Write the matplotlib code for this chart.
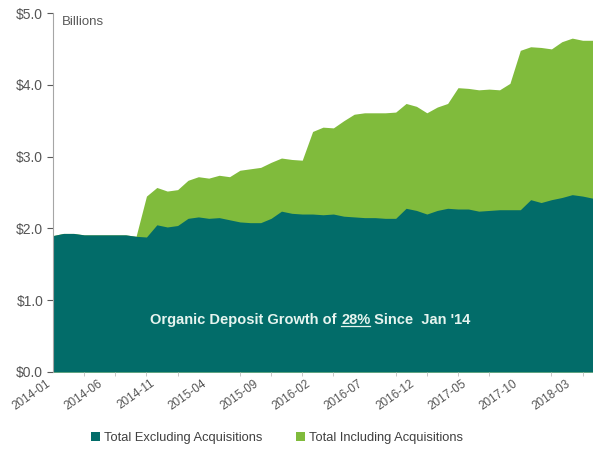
import matplotlib
matplotlib.use("Agg")
import matplotlib.pyplot as plt
from matplotlib.lines import Line2D
from matplotlib.transforms import ScaledTranslation
import numpy as np
import pandas as pd

# monthly deposits, $ billions, Jan 2014 - May 2018
months = pd.period_range("2014-01", periods=53, freq="M")

total_excl = [
    1.90, 1.93, 1.93, 1.91, 1.91, 1.91, 1.91, 1.91, 1.89, 1.88,
    2.05, 2.02, 2.04, 2.14, 2.16, 2.14, 2.15, 2.12, 2.09, 2.08,
    2.08, 2.14, 2.24, 2.21, 2.20, 2.20, 2.19, 2.20, 2.17, 2.16,
    2.15, 2.15, 2.14, 2.14, 2.28, 2.25, 2.20, 2.25, 2.28, 2.27,
    2.27, 2.24, 2.25, 2.26, 2.26, 2.26, 2.40, 2.36, 2.40, 2.43,
    2.47, 2.45, 2.42,
]

total_incl = [
    1.90, 1.93, 1.93, 1.91, 1.91, 1.91, 1.91, 1.91, 1.89, 2.45,
    2.57, 2.52, 2.54, 2.67, 2.72, 2.70, 2.74, 2.72, 2.81, 2.83,
    2.85, 2.92, 2.98, 2.96, 2.95, 3.35, 3.41, 3.40, 3.50, 3.59,
    3.61, 3.61, 3.61, 3.62, 3.74, 3.70, 3.61, 3.69, 3.74, 3.96,
    3.95, 3.93, 3.94, 3.93, 4.02, 4.48, 4.53, 4.52, 4.50, 4.60,
    4.65, 4.62, 4.62,
]

y_ticks = [0, 1, 2, 3, 4, 5]
label_every = 5
tick_every = 3

TEAL = "#026c69"
GREEN = "#80bb3c"
GREY = "#595959"

plt.rcParams["font.family"] = ["Liberation Sans", "DejaVu Sans"]

fig = plt.figure(figsize=(5.93, 4.57), dpi=100)
ax = fig.add_axes([53 / 593, 1 - 372 / 457, 1 - 53 / 593, (372 - 13) / 457])

x = np.arange(len(months))
ax.fill_between(x, 0, total_incl, color=GREEN, linewidth=0,
                label="Total Including Acquisitions")
ax.fill_between(x, 0, total_excl, color=TEAL, linewidth=0,
                label="Total Excluding Acquisitions")

ax.set_xlim(0, len(months) - 1)
ax.set_ylim(0, 5)
ax.set_yticks(y_ticks)
ax.set_yticklabels([f"${v:.1f}" for v in y_ticks])

lab_pos = x[::label_every]
ax.set_xticks(lab_pos)
ax.set_xticklabels([str(months[i]) for i in lab_pos], rotation=35,
                   ha="right", rotation_mode="anchor")
ax.set_xticks(x[::tick_every], minor=True)

ax.tick_params(axis="y", colors=GREY, labelsize=10, length=4, width=0.8,
               pad=3, labelcolor="#555555")
ax.tick_params(axis="x", which="both", length=3, color="#bfbfbf", pad=4,
               labelsize=8.5, labelcolor="#555555")
ax.tick_params(axis="x", which="major", length=0)
# nudge the slanted date labels so they end just left of their tick
shift = ScaledTranslation(-5 / 72, 0, fig.dpi_scale_trans)
for lbl in ax.get_xticklabels():
    lbl.set_transform(lbl.get_transform() + shift)

for side in ("top", "right", "bottom"):
    ax.spines[side].set_visible(False)
ax.spines["left"].set_color("#a6a6a6")
ax.spines["left"].set_linewidth(0.8)

ax.text(0.9, 4.87, "Billions", color=GREY, fontsize=9.5, va="center")

# callout in three pieces so the middle one can be underlined
parts = ["Organic Deposit Growth of ", "28%", " Since  Jan '14"]
style = dict(color="#e6f4ef", fontsize=10.5, fontweight="bold")
renderer = fig.canvas.get_renderer()
widths = []
for p in parts:
    t = fig.text(0, 0, p, **style)
    widths.append(t.get_window_extent(renderer).width)
    t.remove()
cx, cy = ax.transData.transform((24.8, 0.72))
left = cx - sum(widths) / 2
pieces = []
for p, w in zip(parts, widths):
    pieces.append(fig.text(left / fig.bbox.width, cy / fig.bbox.height, p,
                           va="center", ha="left", **style))
    left += w
bb = pieces[1].get_window_extent(renderer)
uy = (bb.y0 + 1) / fig.bbox.height
fig.add_artist(Line2D([bb.x0 / fig.bbox.width, bb.x1 / fig.bbox.width],
                      [uy, uy], color="#e6f4ef", linewidth=0.9))

handles, labels = ax.get_legend_handles_labels()
fig.legend(handles[::-1], labels[::-1], loc="center",
           bbox_to_anchor=(277 / 593, 1 - 438 / 457), ncol=2, frameon=False,
           fontsize=9.3, handlelength=0.7, handleheight=0.7,
           handletextpad=0.3, columnspacing=2.6, labelcolor="#404040")

fig.savefig("out.png", dpi=100)
